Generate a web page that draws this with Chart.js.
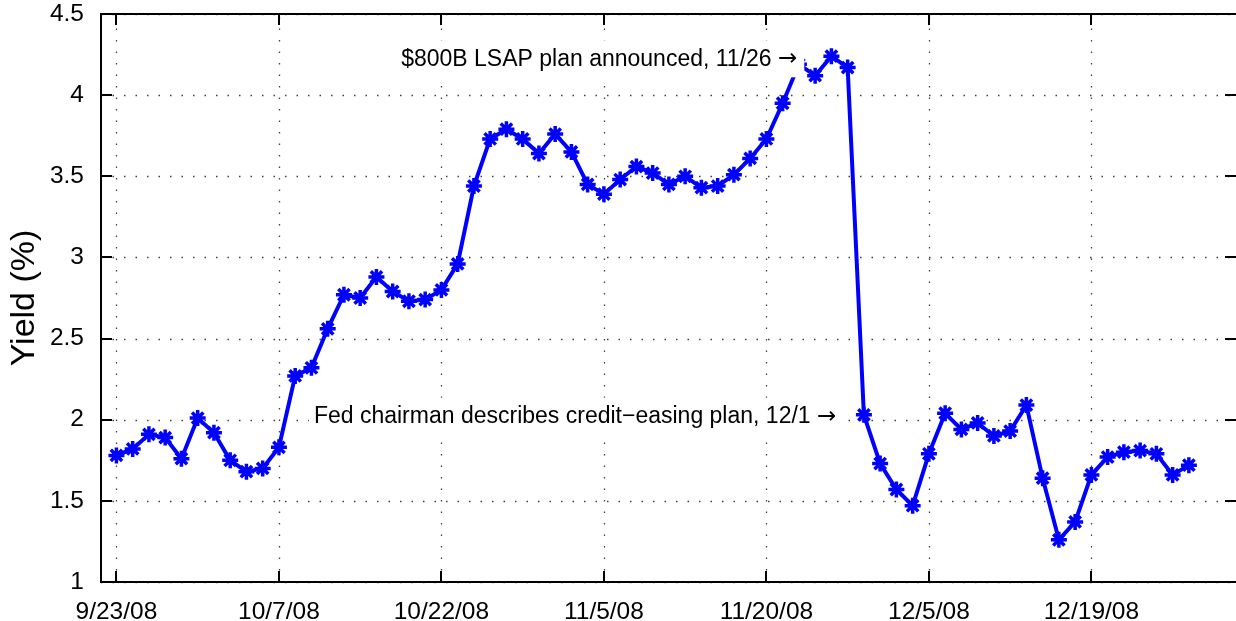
<!DOCTYPE html>
<html>
<head>
<meta charset="utf-8">
<script src="https://cdn.jsdelivr.net/npm/chart.js@4.4.0/dist/chart.umd.min.js"></script>
<style>
  body { margin: 0; background: #fff; }
  canvas { display: block; }
</style>
</head>
<body>
<canvas id="yield-chart" width="1236" height="621"></canvas>
<script>
// daily yields, one per trading day from 9/23/08 onward
const yields = [
  1.78, 1.82, 1.91, 1.89, 1.76, 2.01, 1.92, 1.75, 1.68, 1.70,
  1.83, 2.27, 2.32, 2.56, 2.77, 2.75, 2.88, 2.79, 2.73, 2.74,
  2.80, 2.96, 3.44, 3.73, 3.79, 3.73, 3.64, 3.76, 3.65, 3.45,
  3.39, 3.48, 3.56, 3.52, 3.45, 3.50, 3.43, 3.44, 3.51, 3.61,
  3.73, 3.95, 4.19, 4.12, 4.24, 4.17, 2.03, 1.73, 1.57, 1.47,
  1.79, 2.04, 1.94, 1.98, 1.90, 1.93, 2.09, 1.64, 1.26, 1.37,
  1.66, 1.77, 1.80, 1.81, 1.79, 1.66, 1.72
];
// x tick positions (trading day index) and their date labels
const xTickDays = [0, 10, 20, 30, 40, 50, 60];
const xTickLabels = ['9/23/08', '10/7/08', '10/22/08', '11/5/08', '11/20/08', '12/5/08', '12/19/08'];
const yTicks = [1, 1.5, 2, 2.5, 3, 3.5, 4, 4.5];

const notes = [
  { text: '$800B LSAP plan announced, 11/26', day: 41.9, value: 4.227 },
  { text: 'Fed chairman describes credit\u2212easing plan, 12/1', day: 44.3, value: 2.025 }
];

const FONT = '"Liberation Sans", Arial, Helvetica, sans-serif';

let points = [];
for (let i = 0; i < yields.length; i++) {
  points.push({ x: i, y: yields[i] });
}

// dotted grid under the data
const gridPlugin = {
  id: 'dotgrid',
  beforeDatasetsDraw(chart) {
    const { ctx, chartArea: a, scales: { x, y } } = chart;
    ctx.save();
    ctx.strokeStyle = 'rgba(0,0,0,0.75)';
    ctx.lineWidth = 1.3;
    ctx.setLineDash([1.5, 10]);
    xTickDays.forEach(d => {
      const px = Math.round(x.getPixelForValue(d)) + 0.5;
      ctx.beginPath();
      ctx.moveTo(px, a.bottom);
      ctx.lineTo(px, a.top);
      ctx.stroke();
    });
    yTicks.forEach(v => {
      const py = Math.round(y.getPixelForValue(v)) + 0.5;
      ctx.beginPath();
      ctx.moveTo(a.left, py);
      ctx.lineTo(a.right, py);
      ctx.stroke();
    });
    ctx.restore();
  }
};

// text labels with a white box, drawn over the line
const notePlugin = {
  id: 'notes',
  afterDatasetsDraw(chart) {
    const { ctx, scales: { x, y } } = chart;
    ctx.save();
    ctx.textBaseline = 'middle';
    notes.forEach(n => {
      const px = x.getPixelForValue(n.day);
      const py = y.getPixelForValue(n.value);
      ctx.font = '23px "DejaVu Sans", sans-serif';
      const aw = ctx.measureText('\u2192').width;
      ctx.font = '23px ' + FONT;
      const w = ctx.measureText(n.text + ' ').width;
      ctx.fillStyle = '#fff';
      ctx.fillRect(px - aw - w - 5, py - 18, w + aw + 12, 37);
      ctx.fillStyle = '#000';
      ctx.textAlign = 'left';
      ctx.fillText(n.text + ' ', px - aw - w, py + 1);
      ctx.font = '23px "DejaVu Sans", sans-serif';
      ctx.fillText('\u2192', px - aw, py + 1);
    });
    ctx.restore();
  }
};

// matlab style frame with inward ticks
const framePlugin = {
  id: 'frame',
  afterDraw(chart) {
    const { ctx, chartArea: a, scales: { x, y } } = chart;
    const t = 11;
    ctx.save();
    ctx.strokeStyle = '#000';
    ctx.lineWidth = 2;
    ctx.beginPath();
    ctx.moveTo(a.right, a.top);
    ctx.lineTo(a.left, a.top);
    ctx.lineTo(a.left, a.bottom);
    ctx.lineTo(a.right, a.bottom);
    xTickDays.forEach(d => {
      const px = Math.round(x.getPixelForValue(d));
      ctx.moveTo(px, a.bottom);
      ctx.lineTo(px, a.bottom - t);
      ctx.moveTo(px, a.top);
      ctx.lineTo(px, a.top + t);
    });
    yTicks.forEach(v => {
      const py = Math.round(y.getPixelForValue(v));
      ctx.moveTo(a.left, py);
      ctx.lineTo(a.left + t, py);
      ctx.moveTo(a.right, py);
      ctx.lineTo(a.right - t, py);
    });
    ctx.stroke();
    ctx.restore();
  }
};

new Chart(document.getElementById('yield-chart'), {
  type: 'line',
  data: {
    datasets: [
      {
        data: points,
        borderColor: '#0000ff',
        backgroundColor: '#0000ff',
        borderWidth: 4,
        tension: 0,
        pointStyle: 'star',
        pointRadius: 8,
        pointBorderWidth: 3.5,
        pointBorderColor: '#0000ff',
        pointBackgroundColor: '#0000ff'
      }
    ]
  },
  plugins: [gridPlugin, notePlugin, framePlugin],
  options: {
    responsive: false,
    animation: false,
    devicePixelRatio: 1,
    layout: { autoPadding: false, padding: { top: 14, right: 0, left: 0, bottom: 0 } },
    plugins: {
      legend: { display: false },
      tooltip: { enabled: false }
    },
    scales: {
      x: {
        type: 'linear',
        min: -0.95,
        max: 68.9,
        grid: { display: false },
        border: { display: false },
        afterBuildTicks: axis => { axis.ticks = xTickDays.map(d => ({ value: d })); },
        afterFit: axis => {
          axis.height = 39;
          axis.paddingLeft = 0;
          axis.paddingRight = 0;
        },
        ticks: {
          color: '#000',
          padding: 8,
          maxRotation: 0,
          autoSkip: false,
          font: { family: FONT, size: 24.5 },
          callback: v => xTickLabels[xTickDays.indexOf(v)]
        }
      },
      y: {
        min: 1,
        max: 4.5,
        grid: { display: false },
        border: { display: false },
        afterBuildTicks: axis => { axis.ticks = yTicks.map(v => ({ value: v })); },
        afterFit: axis => {
          axis.width = 101;
          axis.paddingTop = 0;
          axis.paddingBottom = 0;
        },
        ticks: {
          color: '#000',
          padding: 9,
          font: { family: FONT, size: 24.5 },
          callback: v => String(v)
        },
        title: {
          display: true,
          text: 'Yield (%)',
          color: '#000',
          padding: { top: 4.6, bottom: 0 },
          font: { family: FONT, size: 34 }
        }
      }
    }
  }
});
</script>
</body>
</html>
